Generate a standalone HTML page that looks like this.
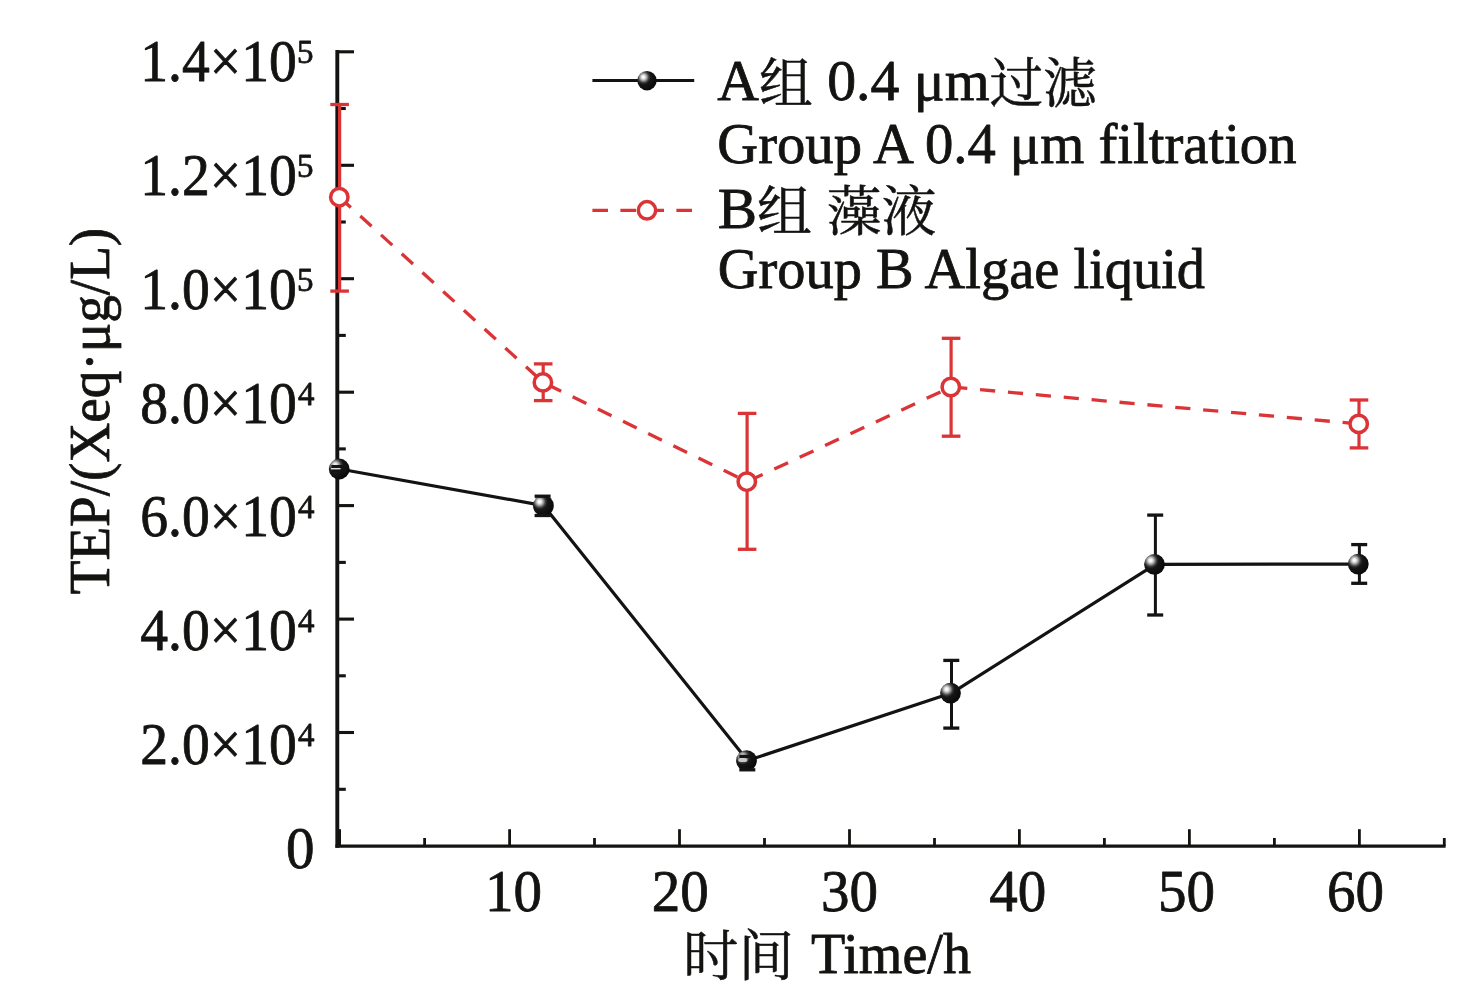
<!DOCTYPE html>
<html lang="zh">
<head>
<meta charset="utf-8">
<title>TEP</title>
<style>
html,body{margin:0;padding:0;background:#fff;}
body{width:1466px;height:1007px;overflow:hidden;}
svg{display:block;}
text{font-family:"Liberation Serif", "Noto Serif CJK SC", serif;fill:#131311;stroke:#131311;stroke-width:0.8px;stroke-linejoin:round;}
.cj{font-family:"Noto Serif CJK SC","Liberation Serif",serif;stroke-width:0.5px;}
</style>
</head>
<body>
<svg width="1466" height="1007" viewBox="0 0 1466 1007">
<defs>
<radialGradient id="ball" cx="0.33" cy="0.33" r="0.64" fx="0.31" fy="0.31">
<stop offset="0" stop-color="#ffffff"/>
<stop offset="0.12" stop-color="#f2f2f2"/>
<stop offset="0.28" stop-color="#a0a0a0"/>
<stop offset="0.44" stop-color="#3e3e3e"/>
<stop offset="0.58" stop-color="#161616"/>
<stop offset="1" stop-color="#0b0b0b"/>
</radialGradient>
</defs>
<rect x="0" y="0" width="1466" height="1007" fill="#ffffff"/>

<g stroke="#131311" fill="none" stroke-linecap="butt">
<line x1="337.3" y1="50.1" x2="337.3" y2="847.7" stroke-width="3.9"/>
<line x1="335.40000000000003" y1="846.2" x2="1445.6" y2="846.2" stroke-width="3.2"/>
<line x1="337.3" y1="789.3" x2="345.8" y2="789.3" stroke-width="3.1"/>
<line x1="337.3" y1="732.5" x2="354" y2="732.5" stroke-width="3.1"/>
<line x1="337.3" y1="675.8" x2="345.8" y2="675.8" stroke-width="3.1"/>
<line x1="337.3" y1="619.1" x2="354" y2="619.1" stroke-width="3.1"/>
<line x1="337.3" y1="562.4" x2="345.8" y2="562.4" stroke-width="3.1"/>
<line x1="337.3" y1="505.6" x2="354" y2="505.6" stroke-width="3.1"/>
<line x1="337.3" y1="448.9" x2="345.8" y2="448.9" stroke-width="3.1"/>
<line x1="337.3" y1="392.2" x2="354" y2="392.2" stroke-width="3.1"/>
<line x1="337.3" y1="335.4" x2="345.8" y2="335.4" stroke-width="3.1"/>
<line x1="337.3" y1="278.7" x2="354" y2="278.7" stroke-width="3.1"/>
<line x1="337.3" y1="222.0" x2="345.8" y2="222.0" stroke-width="3.1"/>
<line x1="337.3" y1="165.3" x2="354" y2="165.3" stroke-width="3.1"/>
<line x1="337.3" y1="108.5" x2="345.8" y2="108.5" stroke-width="3.1"/>
<line x1="337.3" y1="51.8" x2="354" y2="51.8" stroke-width="3.1"/>
<line x1="339.6" y1="829.2" x2="339.6" y2="846" stroke-width="2.8"/>
<line x1="424.6" y1="838" x2="424.6" y2="846" stroke-width="2.8"/>
<line x1="509.6" y1="829.2" x2="509.6" y2="846" stroke-width="2.8"/>
<line x1="594.5" y1="838" x2="594.5" y2="846" stroke-width="2.8"/>
<line x1="679.5" y1="829.2" x2="679.5" y2="846" stroke-width="2.8"/>
<line x1="764.5" y1="838" x2="764.5" y2="846" stroke-width="2.8"/>
<line x1="849.5" y1="829.2" x2="849.5" y2="846" stroke-width="2.8"/>
<line x1="934.5" y1="838" x2="934.5" y2="846" stroke-width="2.8"/>
<line x1="1019.4" y1="829.2" x2="1019.4" y2="846" stroke-width="2.8"/>
<line x1="1104.4" y1="838" x2="1104.4" y2="846" stroke-width="2.8"/>
<line x1="1189.4" y1="829.2" x2="1189.4" y2="846" stroke-width="2.8"/>
<line x1="1274.4" y1="838" x2="1274.4" y2="846" stroke-width="2.8"/>
<line x1="1359.4" y1="829.2" x2="1359.4" y2="846" stroke-width="2.8"/>
<line x1="1444.3" y1="838" x2="1444.3" y2="846" stroke-width="2.8"/>
</g>
<text x="140.3" y="81.1" font-size="60" textLength="156.5" lengthAdjust="spacingAndGlyphs">1.4×10</text>
<text x="297" y="63.1" font-size="34.5" textLength="16.5" lengthAdjust="spacingAndGlyphs">5</text>
<text x="140.3" y="194.9" font-size="60" textLength="156.5" lengthAdjust="spacingAndGlyphs">1.2×10</text>
<text x="297" y="176.9" font-size="34.5" textLength="16.5" lengthAdjust="spacingAndGlyphs">5</text>
<text x="140.3" y="308.7" font-size="60" textLength="156.5" lengthAdjust="spacingAndGlyphs">1.0×10</text>
<text x="297" y="290.7" font-size="34.5" textLength="16.5" lengthAdjust="spacingAndGlyphs">5</text>
<text x="140.3" y="422.5" font-size="60" textLength="156.5" lengthAdjust="spacingAndGlyphs">8.0×10</text>
<text x="298" y="404.5" font-size="34.5" textLength="16.5" lengthAdjust="spacingAndGlyphs">4</text>
<text x="140.3" y="536.2" font-size="60" textLength="156.5" lengthAdjust="spacingAndGlyphs">6.0×10</text>
<text x="298" y="518.2" font-size="34.5" textLength="16.5" lengthAdjust="spacingAndGlyphs">4</text>
<text x="140.3" y="650.0" font-size="60" textLength="156.5" lengthAdjust="spacingAndGlyphs">4.0×10</text>
<text x="298" y="632.0" font-size="34.5" textLength="16.5" lengthAdjust="spacingAndGlyphs">4</text>
<text x="140.3" y="763.8" font-size="60" textLength="156.5" lengthAdjust="spacingAndGlyphs">2.0×10</text>
<text x="298" y="745.8" font-size="34.5" textLength="16.5" lengthAdjust="spacingAndGlyphs">4</text>
<text x="286" y="868" font-size="60" textLength="28.5" lengthAdjust="spacingAndGlyphs">0</text>
<text x="513.4" y="910.8" font-size="60" text-anchor="middle" textLength="57" lengthAdjust="spacingAndGlyphs">10</text>
<text x="680.3" y="910.8" font-size="60" text-anchor="middle" textLength="57" lengthAdjust="spacingAndGlyphs">20</text>
<text x="849.5" y="910.8" font-size="60" text-anchor="middle" textLength="57" lengthAdjust="spacingAndGlyphs">30</text>
<text x="1017.7" y="910.8" font-size="60" text-anchor="middle" textLength="57" lengthAdjust="spacingAndGlyphs">40</text>
<text x="1186.4" y="910.8" font-size="60" text-anchor="middle" textLength="57" lengthAdjust="spacingAndGlyphs">50</text>
<text x="1355.4" y="910.8" font-size="60" text-anchor="middle" textLength="57" lengthAdjust="spacingAndGlyphs">60</text>
<text class="cj" x="683" y="974.5" font-size="55" textLength="111" lengthAdjust="spacingAndGlyphs">时间</text>
<text x="811" y="973" font-size="58" textLength="160" lengthAdjust="spacingAndGlyphs">Time/h</text>
<text transform="translate(108.5 594.3) rotate(-90)" x="0" y="0" font-size="58" textLength="366.5" lengthAdjust="spacingAndGlyphs">TEP/(Xeq·μg/L)</text>
<g stroke="#da3437" fill="none">
<polyline points="339.6,197.2 543.2,382.4 747.1,481.7 951.1,387.0 1359.0,423.9" stroke-width="3.3" stroke-dasharray="15.2 12.8"/>
<line x1="339.6" y1="104.5" x2="339.6" y2="291.1" stroke-width="3.2"/>
<line x1="330.3" y1="104.5" x2="348.9" y2="104.5" stroke-width="3.3"/>
<line x1="330.3" y1="291.1" x2="348.9" y2="291.1" stroke-width="3.3"/>
<line x1="543.2" y1="363.9" x2="543.2" y2="400.6" stroke-width="3.2"/>
<line x1="533.9" y1="363.9" x2="552.5" y2="363.9" stroke-width="3.3"/>
<line x1="533.9" y1="400.6" x2="552.5" y2="400.6" stroke-width="3.3"/>
<line x1="747.1" y1="413.4" x2="747.1" y2="549.3" stroke-width="3.2"/>
<line x1="737.8" y1="413.4" x2="756.4" y2="413.4" stroke-width="3.3"/>
<line x1="737.8" y1="549.3" x2="756.4" y2="549.3" stroke-width="3.3"/>
<line x1="951.1" y1="338.3" x2="951.1" y2="436.2" stroke-width="3.2"/>
<line x1="941.8" y1="338.3" x2="960.4" y2="338.3" stroke-width="3.3"/>
<line x1="941.8" y1="436.2" x2="960.4" y2="436.2" stroke-width="3.3"/>
<line x1="1359.0" y1="400.0" x2="1359.0" y2="447.9" stroke-width="3.2"/>
<line x1="1349.7" y1="400.0" x2="1368.3" y2="400.0" stroke-width="3.3"/>
<line x1="1349.7" y1="447.9" x2="1368.3" y2="447.9" stroke-width="3.3"/>
<circle cx="339.3" cy="197.2" r="8.7" stroke-width="3.5" fill="#ffffff"/>
<circle cx="542.9" cy="382.4" r="8.7" stroke-width="3.5" fill="#ffffff"/>
<circle cx="746.8" cy="481.7" r="8.7" stroke-width="3.5" fill="#ffffff"/>
<circle cx="950.8" cy="387.0" r="8.7" stroke-width="3.5" fill="#ffffff"/>
<circle cx="1358.7" cy="423.9" r="8.7" stroke-width="3.5" fill="#ffffff"/>
</g>
<polyline points="339.6,469.0 543.6,505.6 747.5,760.6 951.5,693.1 1155.4,564.3 1359.4,564.1" stroke="#131311" fill="none" stroke-width="3.2" stroke-linejoin="round"/>
<line x1="339.6" y1="466.6" x2="339.6" y2="470.8" stroke="#131311" stroke-width="3.0"/>
<line x1="543.6" y1="496.2" x2="543.6" y2="515.5" stroke="#131311" stroke-width="3.0"/>
<line x1="747.5" y1="756.4" x2="747.5" y2="769.8" stroke="#131311" stroke-width="3.0"/>
<line x1="951.5" y1="660.4" x2="951.5" y2="728.1" stroke="#131311" stroke-width="3.0"/>
<line x1="1155.4" y1="515.1" x2="1155.4" y2="615.0" stroke="#131311" stroke-width="3.0"/>
<line x1="1359.4" y1="544.6" x2="1359.4" y2="583.3" stroke="#131311" stroke-width="3.0"/>
<circle cx="339.2" cy="469.0" r="10.4" fill="url(#ball)"/>
<circle cx="543.4" cy="505.6" r="10.4" fill="url(#ball)"/>
<circle cx="746.5" cy="760.6" r="10.4" fill="url(#ball)"/>
<circle cx="950.5" cy="693.1" r="10.4" fill="url(#ball)"/>
<circle cx="1154.5" cy="564.3" r="10.4" fill="url(#ball)"/>
<circle cx="1358.3" cy="564.1" r="10.4" fill="url(#ball)"/>
<g stroke="#131311" fill="none">
<line x1="331.4" y1="466.6" x2="347.4" y2="466.6" stroke-width="3.3"/>
<line x1="331.4" y1="470.8" x2="347.4" y2="470.8" stroke-width="3.3"/>
<line x1="534.6" y1="496.2" x2="550.6" y2="496.2" stroke-width="3.3"/>
<line x1="534.6" y1="515.5" x2="550.6" y2="515.5" stroke-width="3.3"/>
<line x1="739.3" y1="756.4" x2="755.3" y2="756.4" stroke-width="3.3"/>
<line x1="739.3" y1="769.8" x2="755.3" y2="769.8" stroke-width="3.3"/>
<line x1="943.3" y1="660.4" x2="959.3" y2="660.4" stroke-width="3.3"/>
<line x1="943.3" y1="728.1" x2="959.3" y2="728.1" stroke-width="3.3"/>
<line x1="1147.2" y1="515.1" x2="1163.2" y2="515.1" stroke-width="3.3"/>
<line x1="1147.2" y1="615.0" x2="1163.2" y2="615.0" stroke-width="3.3"/>
<line x1="1351.2" y1="544.6" x2="1367.2" y2="544.6" stroke-width="3.3"/>
<line x1="1351.2" y1="583.3" x2="1367.2" y2="583.3" stroke-width="3.3"/>
</g>
<line x1="331" y1="468.7" x2="340.5" y2="468.7" stroke="#e6e6e6" stroke-width="1.3"/>
<ellipse cx="742.8" cy="760.2" rx="4.6" ry="1.9" fill="#c8c8c8"/>
<line x1="592.4" y1="80.5" x2="694.2" y2="80.5" stroke="#131311" stroke-width="3.2"/>
<circle cx="647" cy="80.7" r="9.7" fill="url(#ball)"/>
<line x1="592.4" y1="210.3" x2="694.2" y2="210.3" stroke="#da3437" stroke-width="3.3" stroke-dasharray="15.6 12.4"/>
<circle cx="647" cy="210.3" r="8.7" fill="#ffffff" stroke="#da3437" stroke-width="3.5"/>
<text x="717.3" y="99.5" font-size="58" textLength="379.7" lengthAdjust="spacingAndGlyphs">A<tspan class="cj" font-size="54" dy="3">组</tspan><tspan dy="-3"> 0.4 μm</tspan><tspan class="cj" font-size="54" dy="3">过滤</tspan></text>
<text x="717.3" y="162.5" font-size="58" textLength="579.2" lengthAdjust="spacingAndGlyphs">Group A 0.4 μm filtration</text>
<text x="717.8" y="227.5" font-size="58" textLength="218.7" lengthAdjust="spacingAndGlyphs">B<tspan class="cj" font-size="54" dy="3">组</tspan><tspan dy="-3"> </tspan><tspan class="cj" font-size="54" dy="3">藻液</tspan></text>
<text x="717.8" y="288" font-size="58" textLength="487.2" lengthAdjust="spacingAndGlyphs">Group B Algae liquid</text>
</svg>
</body>
</html>
